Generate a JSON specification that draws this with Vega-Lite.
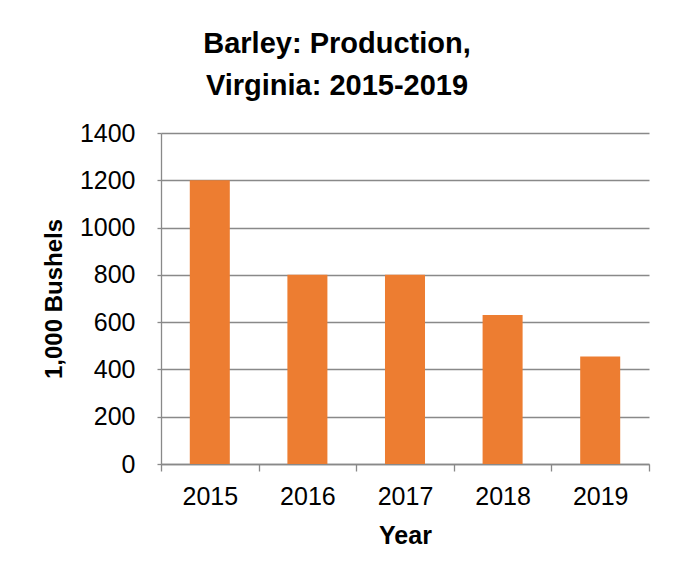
{
  "$schema": "https://vega.github.io/schema/vega-lite/v6.json",
  "autosize": "none",
  "width": 488,
  "height": 331,
  "padding": {"left": 161, "top": 133, "right": 25, "bottom": 114},
  "background": "white",
  "title": {
    "text": ["Barley: Production,", "Virginia: 2015-2019"],
    "font": "Liberation Sans",
    "fontSize": 29,
    "fontWeight": "bold",
    "color": "black",
    "lineHeight": 42,
    "anchor": "middle",
    "dx": -68,
    "offset": 20
  },
  "data": {
    "values": [
      {"Year": "2015", "Production": 1200},
      {"Year": "2016", "Production": 800},
      {"Year": "2017", "Production": 800},
      {"Year": "2018", "Production": 630},
      {"Year": "2019", "Production": 455}
    ]
  },
  "mark": {"type": "bar", "color": "#ED7D31", "width": {"band": 0.41}},
  "encoding": {
    "x": {
      "field": "Year",
      "type": "ordinal",
      "scale": {"paddingInner": 0, "paddingOuter": 0},
      "axis": {
        "title": "Year",
        "titleFont": "Liberation Sans",
        "titleFontSize": 25,
        "titleFontWeight": "bold",
        "titleColor": "black",
        "titlePadding": 14,
        "labelFont": "Liberation Sans",
        "labelFontSize": 25,
        "labelColor": "black",
        "labelAngle": 0,
        "labelPadding": 13,
        "tickBand": "extent",
        "ticks": true,
        "tickSize": 7,
        "tickColor": "#898989",
        "tickWidth": 1.3,
        "domainColor": "#898989",
        "domainWidth": 1.3,
        "grid": false
      }
    },
    "y": {
      "field": "Production",
      "type": "quantitative",
      "scale": {"domain": [0, 1400], "nice": false},
      "axis": {
        "title": "1,000 Bushels",
        "titleFont": "Liberation Sans",
        "titleFontSize": 24,
        "titleFontWeight": "bold",
        "titleColor": "black",
        "titlePadding": 13,
        "values": [0, 200, 400, 600, 800, 1000, 1200, 1400],
        "format": "d",
        "labelFont": "Liberation Sans",
        "labelFontSize": 25,
        "labelColor": "black",
        "labelPadding": 22,
        "tickSize": 4,
        "tickColor": "#898989",
        "tickWidth": 1.3,
        "domainColor": "#898989",
        "domainWidth": 1.3,
        "gridColor": "#898989",
        "gridWidth": 1.3
      }
    }
  },
  "config": {"view": {"stroke": null}}
}
